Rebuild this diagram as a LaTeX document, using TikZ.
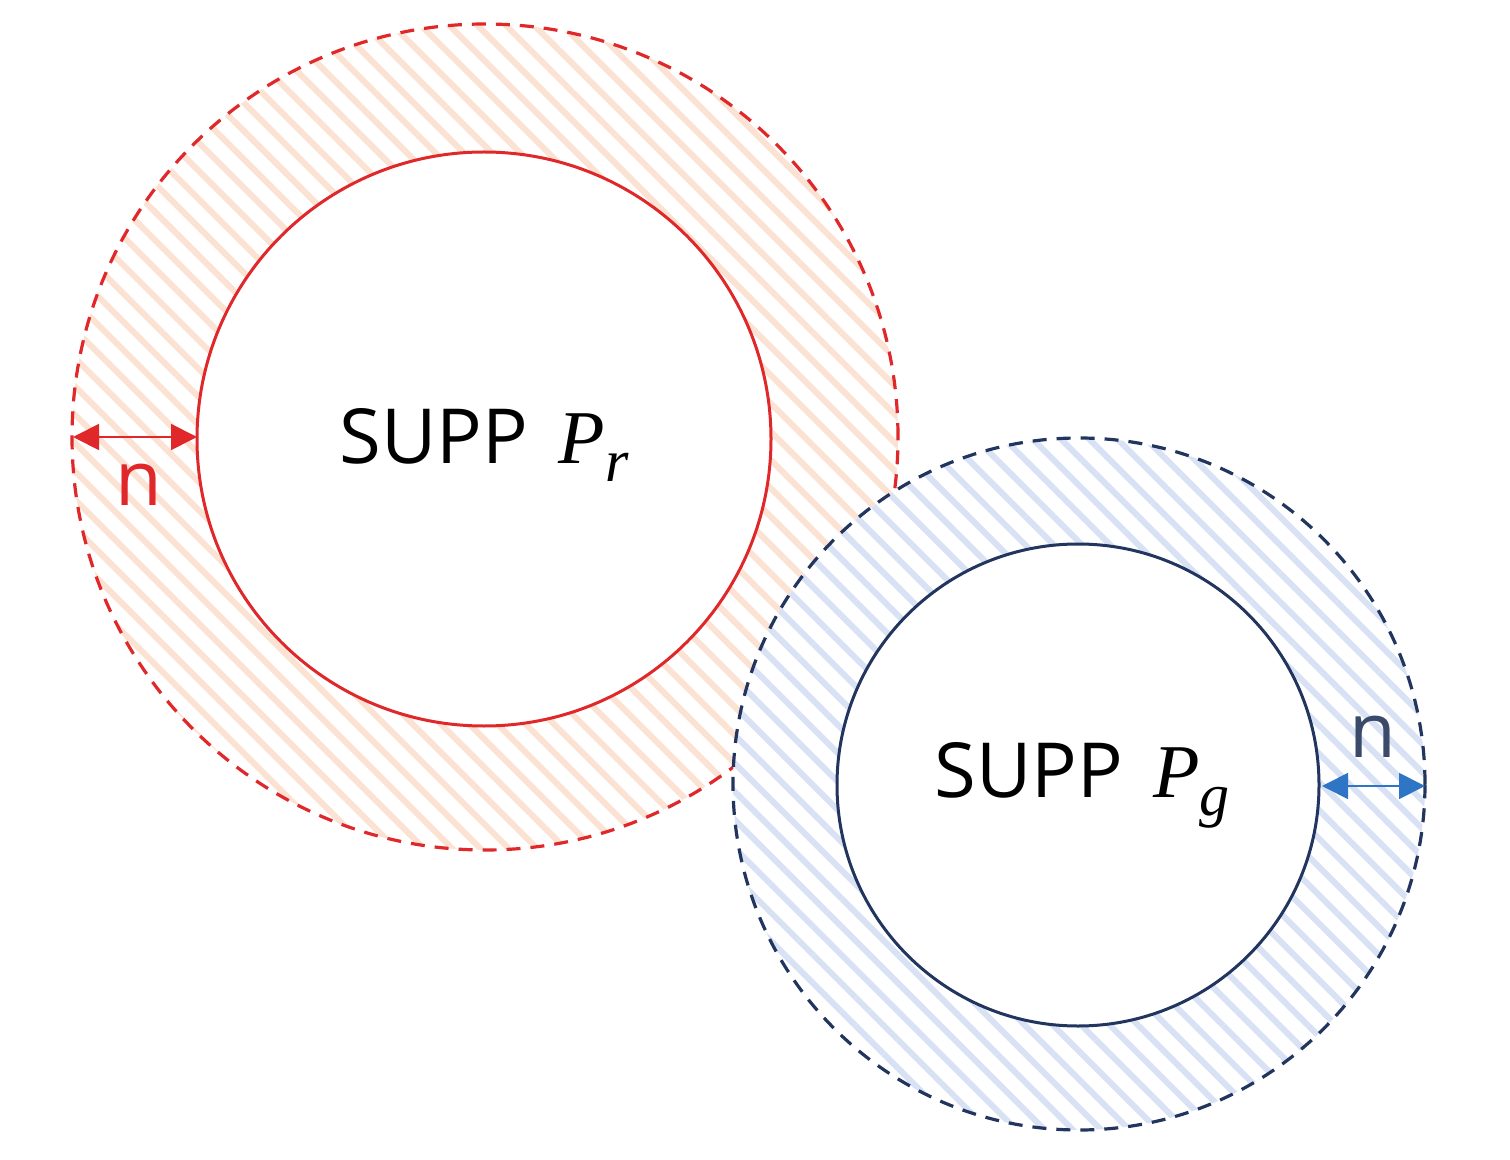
\documentclass[tikz,border=0pt]{standalone}
\usepackage{fontspec}
\setmainfont{Open Sans}
\newfontfamily\pfont{Liberation Serif}
\usetikzlibrary{patterns.meta,arrows.meta}
\definecolor{myred}{HTML}{E0282A}
\definecolor{hatchred}{HTML}{FBE2D2}
\definecolor{navy}{HTML}{22355E}
\definecolor{hatchblue}{HTML}{D8E2F4}
\definecolor{arrblue}{HTML}{2E75C6}
\definecolor{nblue}{HTML}{3A4A6A}
\newcommand{\Psub}[1]{{\pfont\itshape P\raisebox{-9pt}{\fontsize{30}{34}\selectfont #1}}}
\tikzset{
  ringfill/.style={fill=white},
  redhatch/.style={pattern={Lines[angle=-45,distance=10pt,line width=3pt]}, pattern color=hatchred},
  bluehatch/.style={pattern={Lines[angle=-45,distance=10pt,line width=3pt]}, pattern color=hatchblue},
  ringline/.style={line width=1.6pt, dash pattern=on 7pt off 5pt},
  core/.style={fill=white, line width=1.5pt},
  lbl/.style={font=\fontsize{38}{44}\selectfont},
  dim/.style={{Triangle[length=13pt,width=13pt]}-{Triangle[length=13pt,width=13pt]}, line width=0.9pt}
}
\begin{document}
\begin{tikzpicture}[x=0.5pt,y=-0.5pt]
\useasboundingbox (0,0) rectangle (1510,1160);
% red support
\path[ringfill] (485,437) circle[radius=206.5pt];
\path[redhatch] (485,437) circle[radius=206.5pt];
\draw[ringline, myred] (485,437) circle[radius=206.5pt];
\path[core, draw=myred] (484,439) circle[radius=143.5pt];
\node[lbl] (supr) at (484,445) {SUPP\hspace{0.4em}\Psub{r}};
% blue support
\path[ringfill] (1079,784) circle[radius=173pt];
\path[bluehatch] (1079,784) circle[radius=173pt];
\draw[ringline, navy] (1079,784) circle[radius=173pt];
\path[core, draw=navy] (1078,785) circle[radius=120.5pt];
\node[lbl] (supg) at (1082,785) {SUPP\hspace{0.4em}\Psub{g}};
% dimension arrows
\coordinate (ra) at (73,437);
\coordinate (rb) at (197,437);
\draw[dim, myred] (ra) -- (rb);
\node[lbl, text=myred] (nr) at (139,485) {n};
\coordinate (ba) at (1322,786);
\coordinate (bb) at (1425,786);
\draw[dim, arrblue] (ba) -- (bb);
\node[lbl, text=nblue] (nb) at (1373,737) {n};
\end{tikzpicture}
\end{document}
